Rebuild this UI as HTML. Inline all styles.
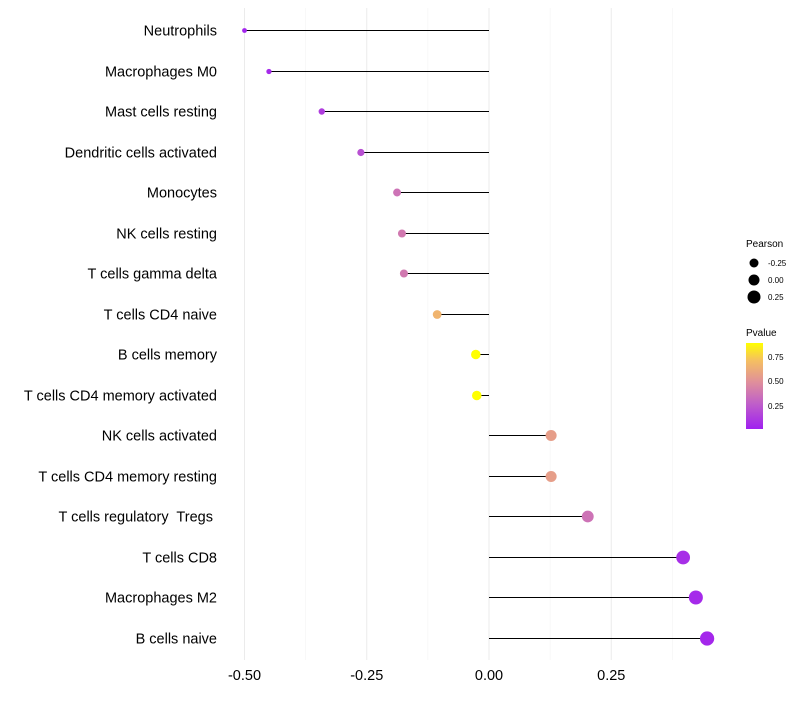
<!DOCTYPE html>
<html><head><meta charset="utf-8"><style>
body{margin:0;background:#fff;font-family:"Liberation Sans",sans-serif}
text{white-space:pre}
</style></head><body>
<svg id="chart" width="800" height="700" xmlns="http://www.w3.org/2000/svg">
<defs><linearGradient id="pg" x1="0" y1="1" x2="0" y2="0">
<stop offset="0" stop-color="#A020F0"/><stop offset="0.3" stop-color="#C060C8"/><stop offset="0.55" stop-color="#E0909A"/><stop offset="0.8" stop-color="#F5C060"/><stop offset="1" stop-color="#FFFF00"/>
</linearGradient></defs>
<g id="grid"></g><g id="marks"></g><g id="labels"></g>
<g font-size="10">
<text x="746" y="247" fill="#000">Pearson</text>
<circle cx="754" cy="263" r="4.5" fill="#000"/>
<text x="768" y="266" font-size="8">-0.25</text>
<circle cx="754" cy="280" r="5.5" fill="#000"/>
<text x="768" y="283" font-size="8">0.00</text>
<circle cx="754" cy="297" r="6.5" fill="#000"/>
<text x="768" y="300" font-size="8">0.25</text>
<text x="746" y="336">Pvalue</text>
<rect x="746" y="343" width="17" height="86" fill="url(#pg)"/>
<text x="768" y="360" font-size="8">0.75</text>
<text x="768" y="384" font-size="8">0.50</text>
<text x="768" y="409" font-size="8">0.25</text>
</g>
</svg>
<script>
const categories=["Neutrophils","Macrophages M0","Mast cells resting","Dendritic cells activated","Monocytes","NK cells resting","T cells gamma delta","T cells CD4 naive","B cells memory","T cells CD4 memory activated","NK cells activated","T cells CD4 memory resting","T cells regulatory  Tregs ","T cells CD8","Macrophages M2","B cells naive"];
const pearson=[-0.50,-0.45,-0.342,-0.262,-0.188,-0.178,-0.174,-0.106,-0.027,-0.025,0.127,0.127,0.202,0.397,0.423,0.446];
const pvalue=[0.02,0.04,0.12,0.2,0.35,0.38,0.38,0.65,0.95,0.95,0.55,0.55,0.35,0.06,0.04,0.03];
const xTicks=[-0.5,-0.25,0,0.25];
const xTickLabels=["-0.50","-0.25","0.00","0.25"];
const NS="http://www.w3.org/2000/svg";
const x=v=>489+v*489;
const y=i=>Math.round(30+i*40.53)+0.5;
const r=v=>4.9+5*v;
const stops=[[0,[160,32,240]],[0.3,[192,96,200]],[0.55,[224,144,154]],[0.8,[245,192,96]],[1,[255,255,0]]];
function col(p){const t=Math.max(0,Math.min(1,p/0.88));for(let k=1;k<stops.length;k++){if(t<=stops[k][0]){const a=stops[k-1],b=stops[k],f=(t-a[0])/(b[0]-a[0]);return "rgb("+a[1].map((c,j)=>Math.round(c+(b[1][j]-c)*f)).join(",")+")";}}return "rgb(255,255,0)";}
function mk(tag,at,parent){const e=document.createElementNS(NS,tag);for(const k in at)e.setAttribute(k,at[k]);document.getElementById(parent).appendChild(e);return e;}
const minor=[-0.375,-0.125,0.125,0.375];
minor.forEach(v=>{const l=mk("line",{x1:x(v),x2:x(v),y1:8,y2:660,stroke:"#f2f2f2","stroke-width":0.6},"grid");

});
xTicks.forEach((v,i)=>{const l=mk("line",{x1:x(v),x2:x(v),y1:8,y2:660,stroke:"#ebebeb","stroke-width":1},"grid");


const t=mk("text",{x:x(v),y:680,"text-anchor":"middle","font-size":14.5,fill:"#000"},"labels");t.textContent=xTickLabels[i];

});
categories.forEach((c,i)=>{
const l=mk("line",{x1:x(0),x2:x(pearson[i]),y1:y(i),y2:y(i),stroke:"#000","stroke-width":1},"marks");


const d=mk("circle",{cx:x(pearson[i]),cy:y(i),r:r(pearson[i]),fill:col(pvalue[i])},"marks");


const t=mk("text",{x:217,y:y(i)+5,"text-anchor":"end","font-size":14.5,fill:"#000"},"labels");t.textContent=c;


});
</script>
</body></html>
